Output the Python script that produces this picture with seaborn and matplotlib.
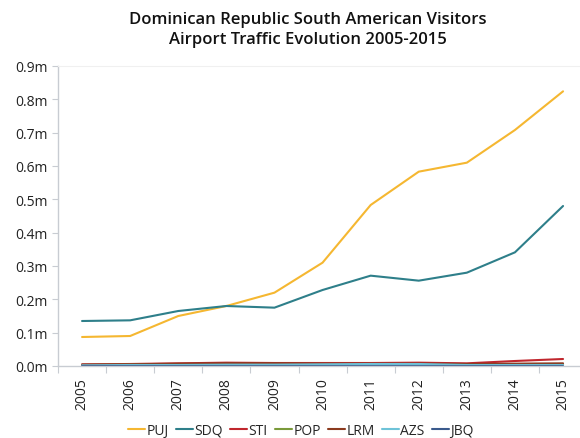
import matplotlib
matplotlib.use("Agg")
import matplotlib.pyplot as plt
import seaborn as sns
import pandas as pd
from matplotlib.ticker import FuncFormatter, FixedLocator

years = list(range(2005, 2016))

# visitors, millions
puj = [0.087, 0.090, 0.150, 0.180, 0.220, 0.310, 0.483, 0.583, 0.610, 0.708, 0.824]
sdq = [0.135, 0.137, 0.165, 0.180, 0.175, 0.228, 0.271, 0.256, 0.280, 0.341, 0.480]
sti = [0.005, 0.006, 0.008, 0.010, 0.009, 0.009, 0.009, 0.010, 0.008, 0.015, 0.021]
pop = [0.003, 0.004, 0.005, 0.006, 0.006, 0.006, 0.006, 0.005, 0.004, 0.004, 0.005]
lrm = [0.004, 0.005, 0.007, 0.008, 0.008, 0.007, 0.007, 0.007, 0.006, 0.007, 0.008]
azs = [0.002, 0.003, 0.003, 0.004, 0.004, 0.005, 0.006, 0.006, 0.003, 0.003, 0.003]
jbq = [0.001, 0.001, 0.001, 0.001, 0.001, 0.001, 0.001, 0.001, 0.001, 0.001, 0.001]

airports = ["PUJ", "SDQ", "STI", "POP", "LRM", "AZS", "JBQ"]
series = [puj, sdq, sti, pop, lrm, azs, jbq]
colors = ["#F5B731", "#2E7F8A", "#C0262D", "#7A9A3A", "#8B3A1E", "#6EC3D8", "#3A5A8C"]

df = pd.DataFrame(
    [(y, a, v) for a, vals in zip(airports, series) for y, v in zip(years, vals)],
    columns=["Year", "Airport", "Visitors"],
)

sns.set_theme(style="white")
plt.rcParams["font.family"] = ["Open Sans", "DejaVu Sans"]

fig = plt.figure(figsize=(5.8, 4.39), dpi=100)
ax = fig.add_axes([58 / 580, (439 - 367) / 439, 522 / 580, 300 / 439])

sns.lineplot(data=df, x="Year", y="Visitors", hue="Airport", hue_order=airports,
             palette=colors, linewidth=1.5, ax=ax, legend=True)

ax.set_xlim(2004.5, 2004.5 + 522 / 48.1)
ax.set_ylim(0, 0.9)
ax.set_yticks([i / 10 for i in range(10)])
ax.yaxis.set_major_formatter(FuncFormatter(lambda v, p: f"{v:.1f}m"))
ax.set_xticks(years)
ax.set_xticklabels([str(y) for y in years], rotation=90)
ax.xaxis.set_minor_locator(FixedLocator([y + 0.5 for y in range(2004, 2016)]))
ax.tick_params(axis="x", which="major", length=0, pad=8, labelsize=10, colors="#222222")
ax.tick_params(axis="x", which="minor", length=5, width=0.8, color="#c8ccd2", direction="out", bottom=True)
ax.tick_params(axis="y", length=4, width=0.8, color="#c8ccd2", labelsize=10, labelcolor="#222222", left=True)
ax.set_xlabel("")
ax.set_ylabel("")

ax.spines["right"].set_visible(False)
ax.spines["top"].set_color("#f0f0f0")
ax.spines["top"].set_linewidth(0.8)
ax.spines["left"].set_color("#c8ccd2")
ax.spines["bottom"].set_color("#c8ccd2")
ax.spines["left"].set_linewidth(1.0)
ax.spines["bottom"].set_linewidth(1.0)

fig.suptitle("Dominican Republic South American Visitors\nAirport Traffic Evolution 2005-2015",
             x=0.53, y=0.972, fontsize=12, fontweight="semibold", color="#111111", linespacing=1.35)

handles, labels = ax.get_legend_handles_labels()
ax.legend(handles, labels, loc="center", bbox_to_anchor=(0.5 - 18 / 522, -0.215),
          ncol=7, frameon=False, handlelength=1.2, handletextpad=0.1,
          columnspacing=0.55, fontsize=10)

fig.savefig("out.png", dpi=100, facecolor="white")
